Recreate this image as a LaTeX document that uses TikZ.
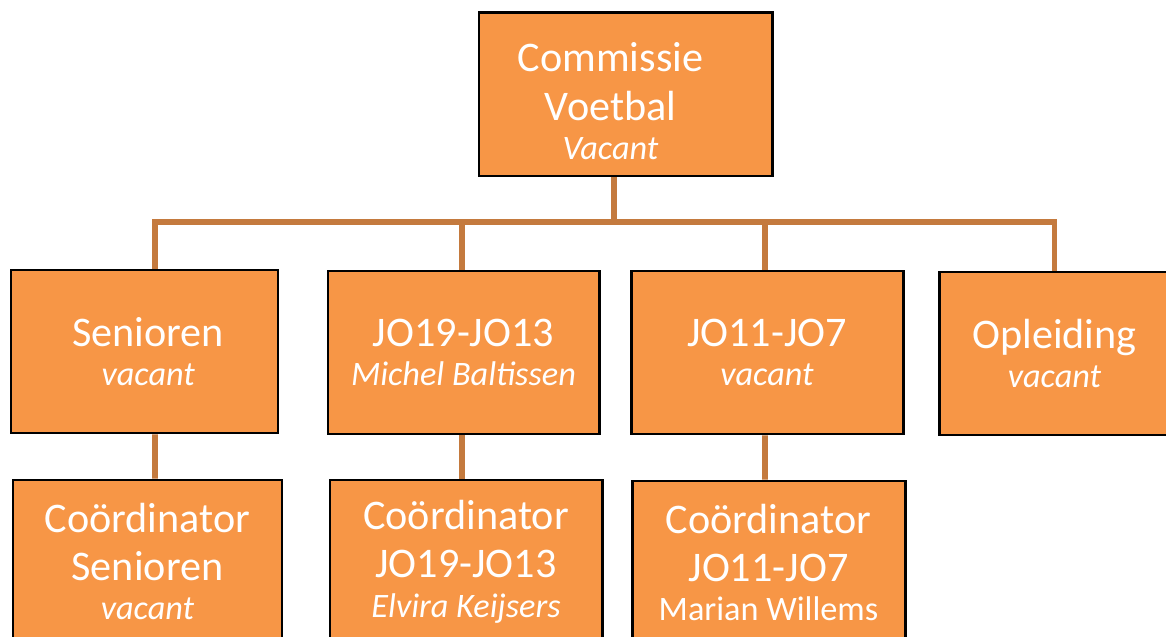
\documentclass[tikz,border=0pt]{standalone}
\usepackage{fontspec}
\setmainfont{Carlito}
\usepackage{tikz}
\definecolor{boxorange}{HTML}{F79646}
\definecolor{linkbrown}{HTML}{C47A3E}

\tikzset{
  orgbox/.style={rectangle, draw=black, line width=1.7pt, fill=boxorange, text=white,
    align=center, inner sep=0pt, minimum height=3.26cm, font=\fontsize{24}{27.5}\selectfont},
  link/.style={draw=linkbrown, line width=3.4pt}
}
\newcommand{\who}[1]{{\fontsize{19.5}{22}\selectfont\itshape #1}}
\newcommand{\whoup}[1]{{\fontsize{19.5}{22}\selectfont #1}}
\newcommand{\pad}{\rule{0.6cm}{0pt}}

\begin{document}
\begin{tikzpicture}
            \useasboundingbox (0,0) rectangle (23.32,-12.74);
            \clip (0,0) rectangle (23.32,-12.74);
            % Top
            \node[orgbox, minimum width=5.86cm] (top) at (12.51,-1.89)
              {\rule{0pt}{0.85cm}Commissie\pad\\Voetbal\pad\\[-5pt]\who{Vacant}\pad};
            % Second row
            \node[orgbox, minimum width=5.34cm] (sen) at (2.89,-7.03) {\hspace*{0.15cm}Senioren\\[-5pt]\hspace*{0.15cm}\who{vacant}};
            \node[orgbox, minimum width=5.42cm] (jo19) at (9.27,-7.05) {JO19-JO13\\[-5pt]\who{Michel Baltissen}};
            \node[orgbox, minimum width=5.44cm] (jo11) at (15.34,-7.05) {JO11-JO7\\[-5pt]\who{vacant}};
            \node[orgbox, minimum width=4.62cm] (opl) at (21.09,-7.07) {Opleiding\\[-5pt]\who{vacant}};
            % Third row
            \node[orgbox, minimum width=5.38cm] (csen) at (2.95,-11.23) {Coördinator\\Senioren\\[-5pt]\who{vacant}};
            \node[orgbox, minimum width=5.44cm] (cjo19) at (9.32,-11.23) {Coördinator\\JO19-JO13\\[-5pt]\who{Elvira Keijsers}};
            \node[orgbox, minimum width=5.46cm] (cjo11) at (15.37,-11.25) {Coördinator\\JO11-JO7\\[-5pt]\whoup{Marian Willems}};
            % Links
            \coordinate (hub) at (12.28,-4.44);
            \begin{scope}[on background layer/.try]
            \draw[link] (top.south -| hub) -- (hub);
            \draw[link] ([xshift=0.21cm]sen.north) |- (hub) -| (opl.north);
            \draw[link] (hub) -| ([xshift=-0.03cm]jo19.north);
            \draw[link] (hub) -| ([xshift=-0.04cm]jo11.north);
            \draw[link] ([xshift=0.21cm]sen.south) -- ([xshift=0.15cm]csen.north);
            \draw[link] ([xshift=-0.03cm]jo19.south) -- ([xshift=-0.08cm]cjo19.north);
            \draw[link] ([xshift=-0.04cm]jo11.south) -- ([xshift=-0.07cm]cjo11.north);
            \end{scope}
        \end{tikzpicture}
\end{document}
